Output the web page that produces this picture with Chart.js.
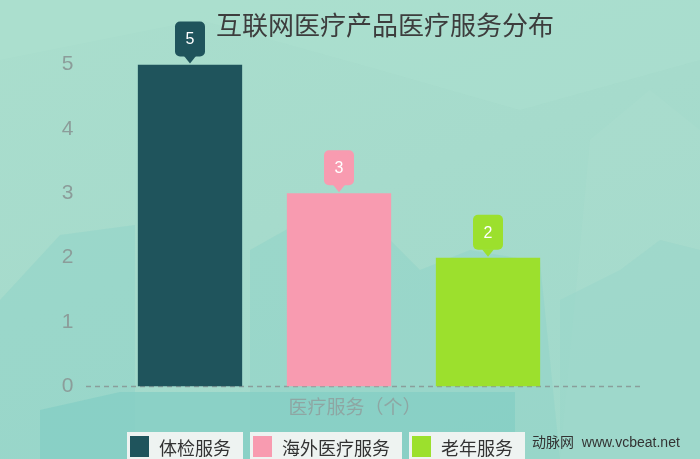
<!DOCTYPE html>
<html>
<head>
<meta charset="utf-8">
<script src="https://cdn.jsdelivr.net/npm/chart.js@4.4.1/dist/chart.umd.min.js"></script>
<style>
  html, body { margin: 0; padding: 0; }
  body { width: 700px; height: 459px; overflow: hidden; position: relative;
         background: linear-gradient(160deg, #aadecd 0%, #a6dbcc 45%, #a0d9cb 100%);
         font-family: "Noto Sans CJK SC", "Noto Sans", sans-serif; }
  #bg { position: absolute; left: 0; top: 0; }
  #wrap { position: absolute; left: 0; top: 0; width: 700px; height: 459px; }
  #title { position: absolute; top: 6px; left: 216px; width: 322px; text-align: center;
           font-size: 26px; color: #3d3d3d; white-space: nowrap; line-height: 36px; }
  #xtitle { position: absolute; top: 393px; left: 287px; width: 136px; text-align: center;
            font-size: 19px; color: #8ea6a3; white-space: nowrap; line-height: 26px; }
  #legend { position: absolute; top: 432px; left: 127px; display: flex; gap: 7px; }
  .item { background: #eef3f1; height: 30px; display: flex; align-items: flex-start;
          padding: 4px 12px 0 3px; box-sizing: border-box; }
  .sw { width: 19px; height: 21px; margin-right: 10px; }
  .lbl { font-size: 18px; color: #333; line-height: 22px; }
  #mark { position: absolute; top: 431px; left: 532px; font-size: 14px; color: #333;
          white-space: nowrap; line-height: 22px; font-family: "Liberation Sans", "Noto Sans CJK SC", sans-serif; }
</style>
</head>
<body>
<svg id="bg" width="700" height="459">
  <polygon points="0,0 700,0 700,60 520,110 380,70 200,20 0,60" fill="#b0e1d1" opacity="0.35"/>
  <polygon points="590,140 650,90 700,130 700,459 560,459" fill="#b2e2d3" opacity="0.2"/>
  <polygon points="0,300 60,235 135,225 135,459 0,459" fill="#93d4c8" opacity="0.6"/>
  <polygon points="250,250 300,222 380,230 420,270 470,250 540,262 560,459 250,459" fill="#93d4c8" opacity="0.6"/>
  <polygon points="560,300 620,270 660,240 700,250 700,459 560,459" fill="#98d6ca" opacity="0.5"/>
  <polygon points="40,410 120,392 515,392 515,459 40,459" fill="#84cec4" opacity="0.8"/>
</svg>
<div id="wrap"><canvas id="chart" width="700" height="459"></canvas></div>
<div id="title">互联网医疗产品医疗服务分布</div>
<div id="xtitle">医疗服务（个）</div>
<div id="legend"></div>
<div id="mark">动脉网&nbsp; www.vcbeat.net</div>
<script>
const categories = ['体检服务', '海外医疗服务', '老年服务'];
const counts = [5, 3, 2];
const barColors = ['#1f545c', '#f89bb0', '#9ce02d'];
const yTicks = [0, 1, 2, 3, 4, 5];

// legend boxes
const legend = document.getElementById('legend');
categories.forEach((c, i) => {
  const d = document.createElement('div');
  d.className = 'item';
  d.innerHTML = '<div class="sw" style="background:' + barColors[i] + '"></div><span class="lbl">' + c + '</span>';
  legend.appendChild(d);
});

// dashed baseline across the plot
const baseline = {
  id: 'baseline',
  beforeDatasetsDraw(chart) {
    const ctx = chart.ctx;
    const y = chart.scales.y.getPixelForValue(0);
    ctx.save();
    ctx.strokeStyle = '#8a9e9b';
    ctx.lineWidth = 1.5;
    ctx.setLineDash([5, 4]);
    ctx.beginPath();
    ctx.moveTo(86, y);
    ctx.lineTo(640, y);
    ctx.stroke();
    ctx.restore();
  }
};

// callout value labels above bars
const callouts = {
  id: 'callouts',
  afterDatasetsDraw(chart) {
    const ctx = chart.ctx;
    chart.getDatasetMeta(0).data.forEach((bar, i) => {
      const x = bar.x, tip = bar.y - 1;
      const w = 30, h = 35, r = 5;
      const bottom = tip - 7, top = bottom - h, left = x - w / 2;
      ctx.save();
      ctx.fillStyle = barColors[i];
      ctx.beginPath();
      ctx.roundRect(left, top, w, h, r);
      ctx.fill();
      ctx.beginPath();
      ctx.moveTo(x - 6, bottom - 0.5);
      ctx.lineTo(x, tip);
      ctx.lineTo(x + 6, bottom - 0.5);
      ctx.closePath();
      ctx.fill();
      ctx.fillStyle = '#ffffff';
      ctx.font = '16px "Liberation Sans", Arial, sans-serif';
      ctx.textAlign = 'center';
      ctx.textBaseline = 'middle';
      ctx.fillText(String(counts[i]), x, top + h / 2 + 1);
      ctx.restore();
    });
  }
};

new Chart(document.getElementById('chart'), {
  type: 'bar',
  data: {
    labels: categories,
    datasets: [{
      data: counts,
      backgroundColor: barColors,
      borderWidth: 0,
      barPercentage: 0.7,
      categoryPercentage: 1
    }]
  },
  options: {
    responsive: false,
    animation: false,
    layout: { padding: { left: 0, right: 137.5, top: 64.5, bottom: 72.5 } },
    plugins: { legend: { display: false }, tooltip: { enabled: false } },
    scales: {
      x: { display: false },
      y: {
        min: 0, max: 5,
        afterFit(scale) { scale.width = 115.5; },
        afterBuildTicks(scale) { scale.ticks = yTicks.map(v => ({ value: v })); },
        border: { display: false },
        grid: { display: false, drawTicks: false },
        ticks: {
          padding: 42,
          color: '#8c9d9a',
          font: { family: '"Liberation Sans", Arial, sans-serif', size: 21 }
        }
      }
    }
  },
  plugins: [baseline, callouts]
});
</script>
</body>
</html>
